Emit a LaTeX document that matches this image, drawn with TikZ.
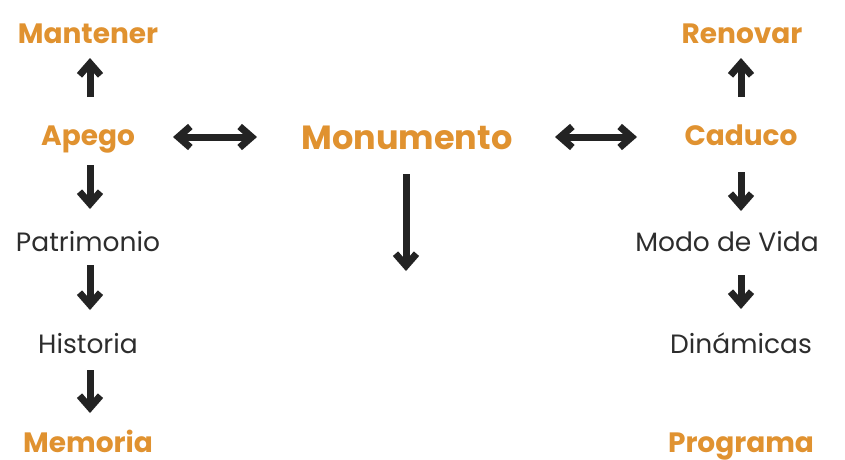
\documentclass[tikz,border=0pt]{standalone}
\usepackage{fontspec}
\setmainfont{Poppins}
\usetikzlibrary{arrows.meta}
\definecolor{ochre}{RGB}{224,146,48}
\definecolor{ink}{RGB}{45,45,45}
\definecolor{shaft}{RGB}{35,35,35}
\begin{document}
\begin{tikzpicture}[x=1pt,y=-1pt,
  key/.style={text=ochre,font=\bfseries\fontsize{28}{30}\selectfont,inner sep=0pt,anchor=base},
  bigkey/.style={key,font=\bfseries\fontsize{33.5}{36}\selectfont},
  plain/.style={text=ink,font=\fontsize{26.5}{28}\selectfont,inner sep=0pt,anchor=base},
  barb/.tip={Straight Barb[length=12pt,width=21pt,line width=7pt]},
  link/.style={draw=shaft,line width=7pt,-barb},
  twoway/.style={draw=shaft,line width=7pt,barb-barb}
]
\useasboundingbox (0,0) rectangle (845,459);
% left column
\node[key]   (mantener)   at (88,43)  {Mantener};
\node[key]   (apego)      at (88,145) {Apego};
\node[plain] (patrimonio) at (88,251) {Patrimonio};
\node[plain] (historia)   at (88,353) {Historia};
\node[key]   (memoria)    at (88,452) {Memoria};
% centre
\node[bigkey] (monumento) at (407,149) {Monumento};
% right column
\node[key]   (renovar)    at (742,43)  {Renovar};
\node[key]   (caduco)     at (741,145) {Caduco};
\node[plain] (modo)       at (727,251) {Modo de Vida};
\node[plain] (dinamicas)  at (741,353) {Dinámicas};
\node[key]   (programa)   at (741,452) {Programa};
\coordinate (below) at (406,271);
% left chain
\draw[link] ([shift={(2,-48)}]apego.base) -- ([shift={(2,15)}]mantener.base);
\draw[link] ([shift={(2,20)}]apego.base) -- ([shift={(2,-42)}]patrimonio.base);
\draw[link] ([shift={(2,14)}]patrimonio.base) -- ([shift={(2,-43)}]historia.base);
\draw[link] ([shift={(2,17)}]historia.base) -- ([shift={(2,-39)}]memoria.base);
% centre
\draw[twoway] ([shift={(85,-8)}]apego.base) -- ([shift={(-150,-12)}]monumento.base);
\draw[twoway] ([shift={(148,-12)}]monumento.base) -- ([shift={(-104,-8)}]caduco.base);
\draw[link] ([shift={(-1,25)}]monumento.base) -- (below);
% right chain
\draw[link] ([shift={(0,-48)}]caduco.base) -- ([shift={(-1,15)}]renovar.base);
\draw[link] ([shift={(0,27)}]caduco.base) -- ([shift={(14,-40)}]modo.base);
\draw[link] ([shift={(14,24)}]modo.base) -- ([shift={(0,-44)}]dinamicas.base);
\end{tikzpicture}
\end{document}
